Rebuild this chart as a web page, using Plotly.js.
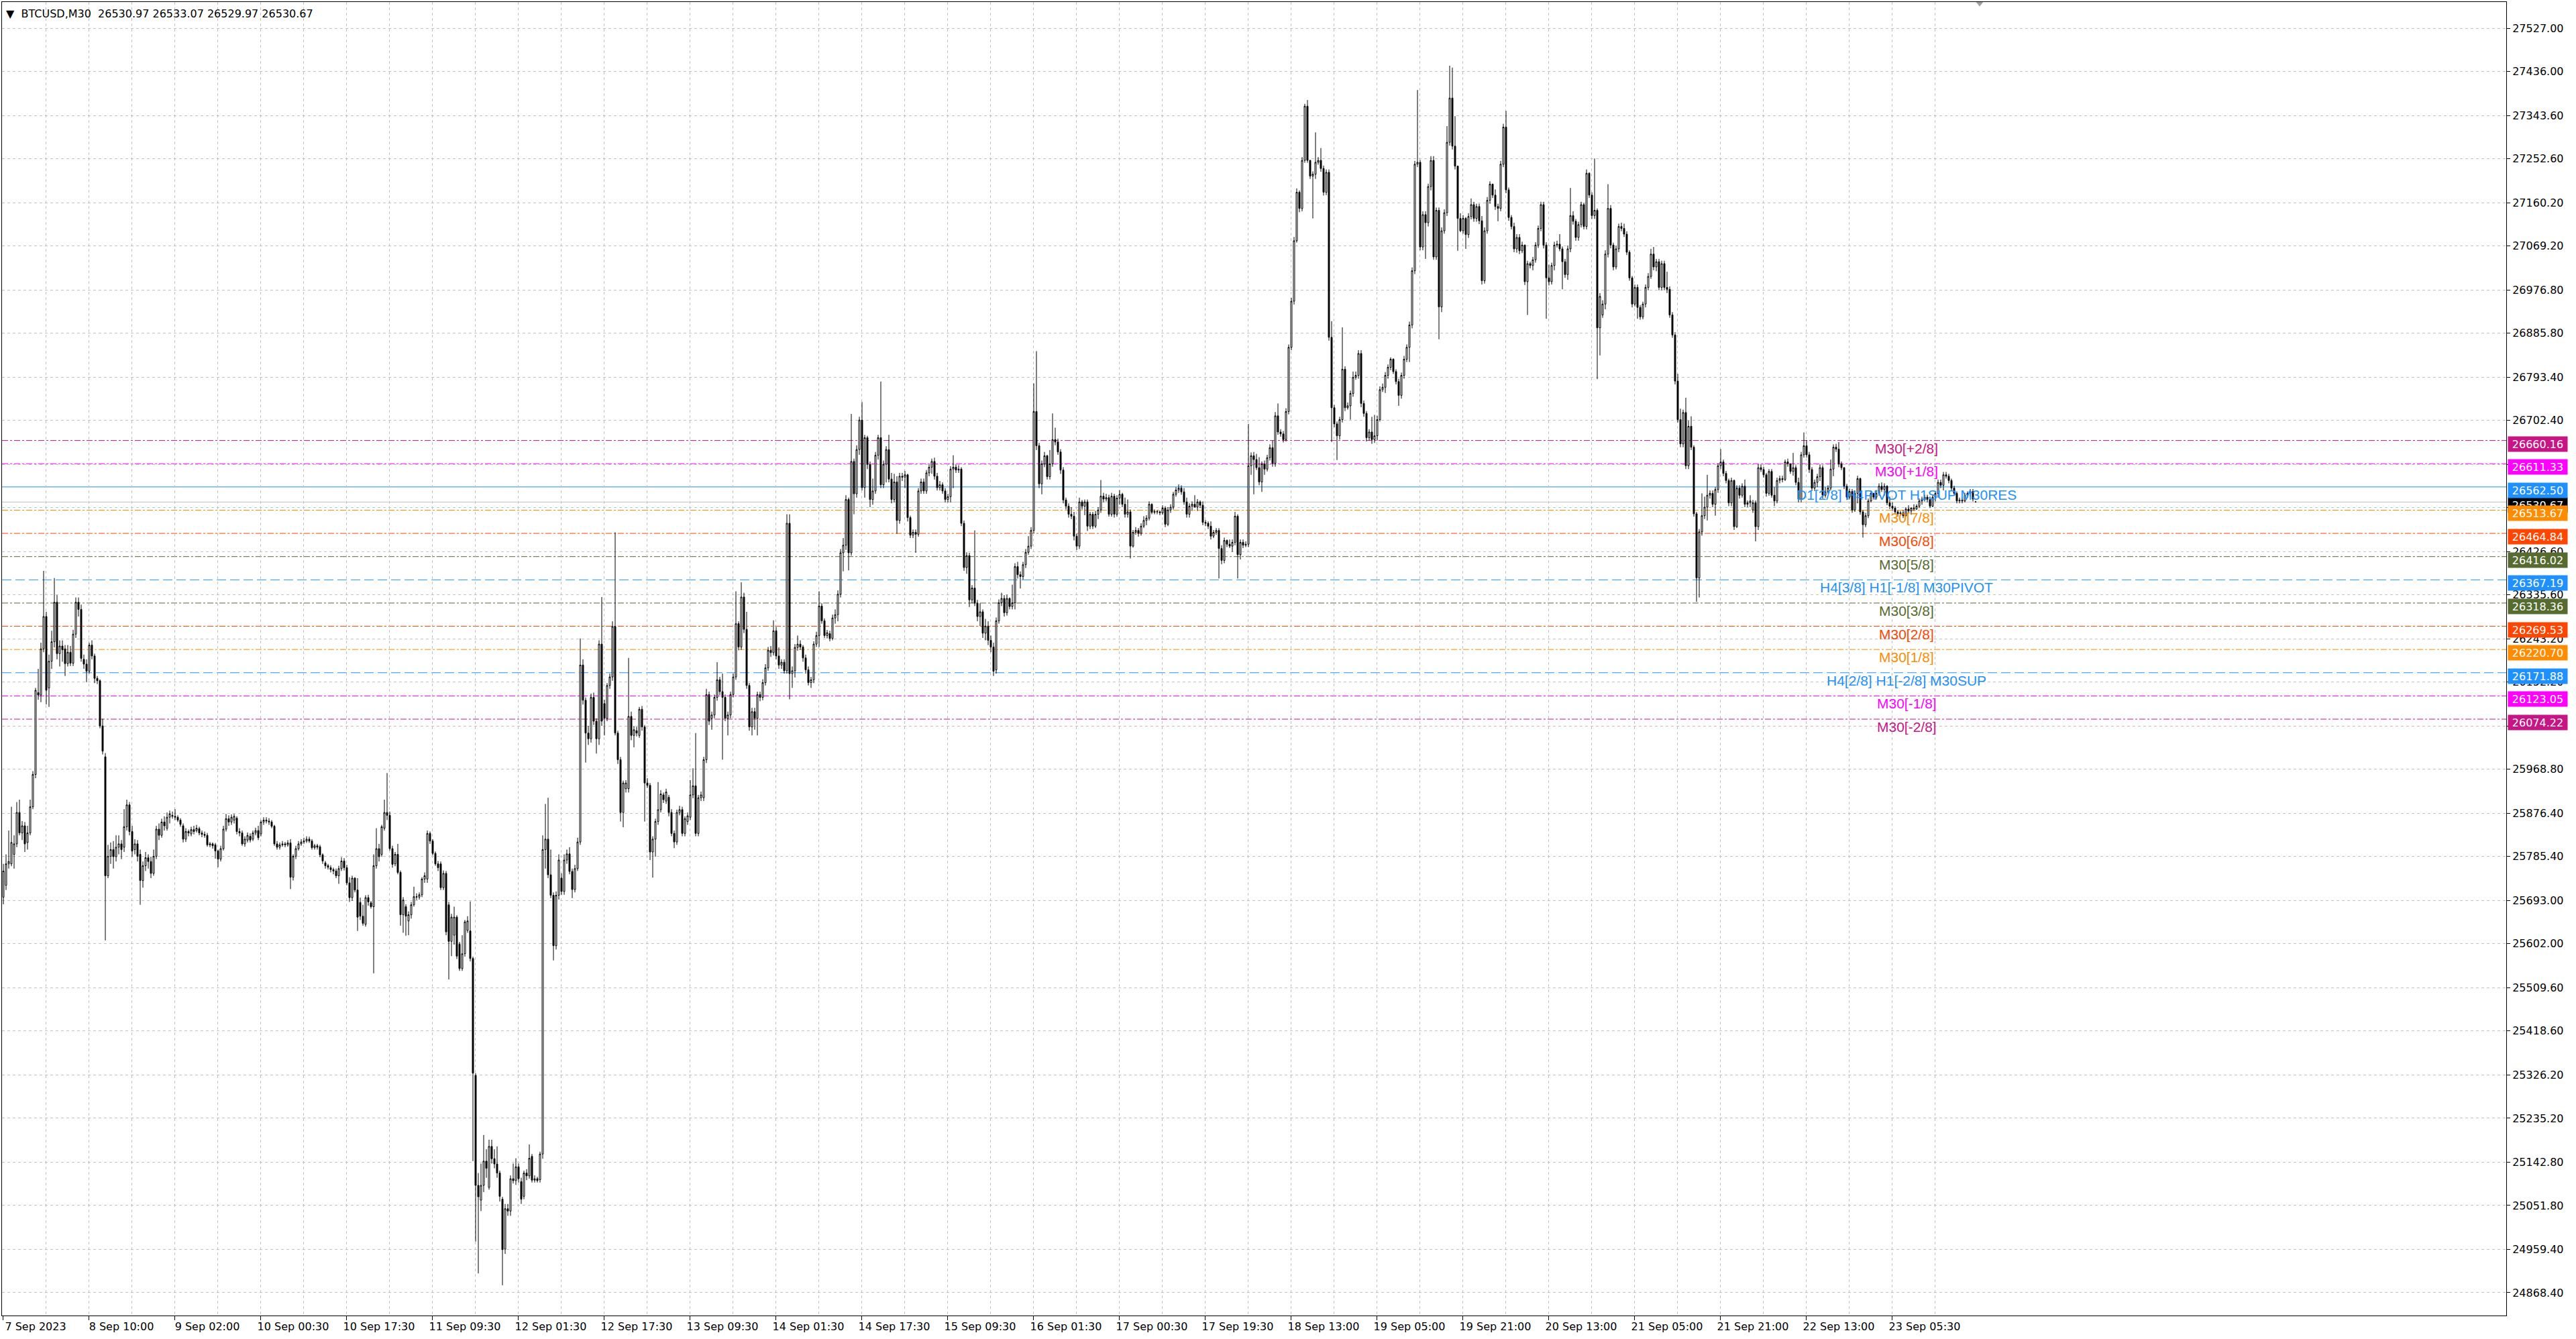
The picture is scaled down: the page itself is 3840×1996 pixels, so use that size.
<!DOCTYPE html>
<html>
<head>
<meta charset="utf-8">
<script src="https://cdn.plot.ly/plotly-3.0.1.min.js"></script>
<style>
html,body{margin:0;padding:0;background:#ffffff;}
#chart{width:3840px;height:1996px;}
</style>
</head>
<body>
<div id="chart"></div>
<script>
// ---------------- data ----------------
const symbolTitle = "BTCUSD,M30";
const lastBarText = ["26530.97", "26533.07", "26529.97", "26530.67"];

const openP = [
25700,25725,25770,25770,25790,25812,25878,25835,25850,25815,
25835,25890,25958,26130,26125,26222,26290,26140,26196,26237,
26320,26212,26228,26222,26191,26215,26192,26253,26320,26305,
26200,26190,26175,26230,26207,26160,26155,26060,25995,25745,
25786,25800,25785,25805,25812,25805,25848,25894,25838,25800,
25812,25790,25735,25766,25783,25775,25750,25786,25843,25830,
25858,25845,25868,25872,25870,25868,25862,25850,25822,25838,
25833,25842,25840,25844,25835,25832,25830,25810,25812,25810,
25797,25780,25802,25843,25865,25858,25862,25866,25838,25835,
25812,25820,25828,25822,25835,25840,25833,25858,25862,25860,
25858,25849,25812,25805,25810,25812,25810,25814,25742,25786,
25802,25812,25816,25818,25822,25818,25804,25808,25806,25789,
25772,25766,25762,25758,25755,25745,25760,25776,25762,25730,
25699,25740,25715,25689,25660,25643,25699,25688,25680,25766,
25802,25790,25845,25878,25872,25802,25770,25790,25752,25663,
25680,25650,25663,25684,25701,25700,25705,25738,25738,25834,
25818,25792,25770,25770,25720,25750,25684,25607,25620,25658,
25601,25550,25581,25630,25629,25571,25325,25094,25063,25094,
25145,25090,25176,25150,25139,25120,25065,24960,25045,25040,
25108,25104,25133,25102,25071,25120,25114,25155,25105,25108,
25106,25160,25800,25822,25747,25704,25598,25704,25740,25712,
25778,25791,25754,25716,25760,25816,26188,26114,26045,26033,
26120,26070,26033,26232,26107,26076,26145,26163,26269,26045,
25989,25878,25928,25928,26080,26040,26050,26040,26095,26058,
25940,25935,25795,25822,25859,25884,25915,25902,25910,25878,
25834,25816,25878,25884,25834,25859,25868,25915,25934,25834,
25909,25909,25989,26126,26076,26083,26120,26157,26132,26120,
26076,26083,26126,26163,26275,26226,26331,26263,26145,26058,
26090,26076,26126,26120,26151,26182,26219,26214,26260,26207,
26188,26194,26176,26486,26170,26176,26225,26232,26226,26203,
26178,26151,26157,26232,26250,26312,26281,26250,26254,26244,
26287,26294,26337,26424,26440,26536,26424,26616,26548,26641,
26703,26561,26666,26610,26536,26554,26629,26666,26567,26610,
26641,26579,26536,26573,26492,26585,26583,26588,26498,26461,
26467,26463,26554,26573,26554,26592,26604,26616,26585,26561,
26567,26554,26536,26542,26600,26604,26598,26600,26486,26393,
26418,26325,26350,26318,26290,26300,26255,26270,26240,26226,
26178,26281,26319,26328,26298,26328,26311,26319,26395,26378,
26374,26399,26425,26438,26471,26721,26649,26569,26611,26628,
26584,26611,26662,26657,26636,26598,26535,26522,26505,26501,
26459,26438,26531,26522,26531,26480,26505,26480,26505,26514,
26543,26537,26540,26505,26543,26505,26539,26547,26526,26505,
26510,26438,26467,26471,26465,26480,26492,26497,26526,26509,
26511,26510,26508,26518,26484,26514,26520,26547,26556,26560,
26552,26531,26505,26522,26526,26520,26531,26524,26488,26486,
26480,26459,26467,26471,26433,26408,26450,26442,26438,26446,
26501,26420,26446,26440,26442,26607,26628,26620,26603,26573,
26611,26600,26624,26645,26612,26712,26678,26674,26662,26721,
26856,26953,27080,27182,27148,27249,27363,27249,27216,27220,
27245,27249,27232,27182,27224,26877,26729,26695,26670,26704,
26810,26729,26733,26759,26793,26797,26843,26738,26717,26666,
26678,26662,26670,26704,26767,26772,26797,26814,26831,26805,
26784,26755,26797,26831,26856,26903,27017,27241,27245,27067,
27135,27118,27194,27249,27046,27144,26941,27101,27139,27287,
27380,27279,27237,27127,27101,27127,27093,27131,27156,27127,
27152,27122,26996,27101,27165,27199,27176,27152,27148,27241,
27319,27187,27129,27110,27063,27087,27059,27071,26994,27032,
27028,27040,27071,27106,27156,27071,27002,26994,27028,27071,
27073,27063,27036,27009,27063,27133,27121,27087,27114,27156,
27110,27222,27176,27133,27144,26897,26924,26947,27052,27148,
27071,27025,27063,27110,27106,27094,27056,27002,26947,26982,
26940,26920,26947,26982,27005,27052,27025,27036,26982,27032,
26982,26978,26924,26882,26785,26704,26653,26719,26607,
26690,26646,26506,26371,26468,26502,26520,26545,
26549,26526,26557,26607,26615,26591,26576,26529,26576,26479,
26560,26545,26564,26526,26529,26514,26529,26479,26603,26599,
26588,26549,26595,26545,26533,26576,26580,26578,26615,26611,
26595,26603,26572,26537,26630,26649,26630,26599,26560,26572,
26584,26603,26545,26552,26560,26600,26646,26642,26611,26603,
26564,26541,26553,26514,26549,26580,26510,26483,26502,26533,
26549,26541,26549,26564,26557,26564,26529,26522,26518,26510,
26506,26508,26502,26516,26512,26518,26516,26522,26533,26537,26541,26536,26522,
26541,26549,26572,26566,26588,26585,26576,26560,26549,26533,
26535,26533,26545,26549,26553,26530.97
];

const highP = [
25770,25790,25840,25890,25830,25900,25905,25860,25858,25850,
25905,25965,26140,26180,26235,26386,26300,26210,26260,26371,
26335,26240,26240,26230,26230,26228,26262,26330,26330,26315,
26210,26200,26235,26240,26212,26165,26158,26075,26003,25810,
25815,25818,25830,25830,25820,25885,25905,25900,25850,25822,
25820,25800,25775,25795,25790,25785,25800,25850,25855,25865,
25870,25878,25882,25880,25885,25872,25866,25855,25845,25842,
25848,25850,25852,25848,25840,25838,25835,25816,25815,25814,
25800,25808,25850,25875,25872,25874,25875,25870,25845,25840,
25828,25836,25834,25840,25846,25850,25862,25868,25868,25866,
25862,25852,25818,25815,25818,25816,25820,25822,25790,25808,
25818,25822,25825,25828,25827,25822,25812,25812,25810,25792,
25776,25770,25767,25762,25760,25766,25784,25782,25768,25742,
25745,25742,25740,25699,25684,25704,25705,25692,25790,25845,
25812,25852,25905,25961,25880,25808,25795,25812,25756,25700,
25685,25670,25690,25722,25708,25710,25742,25752,25840,25838,
25822,25796,25776,25775,25756,25755,25690,25665,25680,25662,
25606,25620,25652,25660,25691,25575,25330,25120,25140,25200,
25170,25190,25190,25170,25176,25125,25070,25055,25055,25115,
25140,25151,25140,25110,25125,25128,25180,25160,25115,25112,
25165,25830,25896,25909,25800,25710,25712,25790,25750,25790,
25800,25805,25760,25768,25825,26244,26200,26120,26060,26128,
26130,26076,26240,26331,26115,26150,26170,26280,26467,26050,
25995,25945,25946,26203,26090,26060,26058,26100,26102,26062,
25950,25940,25828,25865,25942,25925,25920,25928,25915,25885,
25840,25884,25892,25890,25870,25878,25946,25971,26045,25915,
25922,25995,26138,26132,26090,26126,26194,26163,26170,26126,
26090,26132,26170,26343,26280,26362,26340,26300,26150,26098,
26098,26132,26132,26158,26190,26226,26228,26282,26268,26225,
26200,26200,26505,26505,26185,26232,26250,26240,26230,26210,
26185,26163,26238,26258,26343,26318,26286,26262,26260,26294,
26305,26345,26432,26455,26545,26540,26716,26622,26650,26710,
26741,26672,26670,26616,26580,26636,26672,26784,26618,26648,
26672,26592,26590,26585,26592,26592,26596,26590,26502,26473,
26473,26560,26580,26580,26598,26610,26622,26624,26592,26575,
26572,26560,26548,26606,26629,26610,26608,26604,26492,26425,
26424,26356,26471,26325,26318,26305,26285,26280,26250,26235,
26288,26326,26340,26335,26336,26330,26357,26402,26405,26385,
26405,26432,26459,26478,26780,26848,26655,26618,26636,26630,
26640,26717,26687,26664,26642,26604,26540,26528,26520,26510,
26464,26540,26535,26536,26536,26510,26510,26512,26520,26577,
26550,26548,26546,26550,26548,26545,26556,26550,26540,26536,
26515,26472,26478,26476,26486,26501,26503,26532,26528,26515,
26514,26513,26524,26522,26520,26526,26552,26562,26568,26566,
26560,26540,26528,26532,26545,26537,26534,26532,26493,26490,
26490,26472,26476,26476,26440,26456,26452,26452,26452,26510,
26505,26452,26452,26448,26695,26635,26636,26632,26625,26616,
26618,26630,26652,26660,26720,26738,26684,26680,26728,26862,
26960,27088,27190,27186,27256,27368,27376,27250,27226,27308,
27256,27275,27238,27230,27230,26911,26735,26700,26710,26898,
26816,26740,26765,26805,26805,26850,26850,26744,26722,26684,
26710,26714,26712,26774,26780,26804,26820,26835,26833,26810,
26790,26803,26838,26862,26910,27024,27248,27397,27250,27142,
27142,27200,27258,27258,27150,27150,27108,27146,27321,27448,
27444,27342,27238,27138,27134,27130,27138,27169,27162,27158,
27158,27132,27108,27172,27205,27200,27188,27158,27248,27326,
27353,27192,27134,27118,27094,27094,27078,27072,27038,27036,
27046,27077,27112,27162,27162,27077,27030,27034,27078,27080,
27094,27068,27042,27070,27191,27142,27126,27120,27162,27160,
27230,27224,27182,27253,27148,26970,26955,27060,27199,27155,
27076,27070,27116,27118,27116,27100,27060,27006,26988,26988,
26945,26952,26988,27012,27063,27067,27042,27042,27038,27038,
27015,26984,26930,26888,26800,26727,26725,26750,26702,
26711,26650,26510,26474,26549,26542,26588,26555,
26555,26562,26612,26642,26620,26596,26580,26582,26578,26566,
26566,26570,26578,26534,26545,26535,26534,26610,26610,26605,
26592,26600,26600,26562,26582,26586,26586,26620,26622,26612,
26634,26608,26582,26636,26677,26661,26636,26604,26578,26590,
26610,26608,26562,26566,26620,26652,26653,26657,26616,26604,
26569,26559,26558,26555,26586,26582,26514,26508,26538,26555,
26550,26556,26570,26572,26570,26566,26542,26530,26522,26514,
26512,26514,26520,26524,26520,26526,26526,26538,26542,26546,26546,26542,26546,
26554,26578,26578,26594,26594,26590,26580,26565,26553,26540,
26540,26550,26553,26558,26558,26533.07
];

const lowP = [
25685,25715,25760,25765,25760,25805,25830,25820,25795,25800,
25830,25885,25950,26115,26110,26215,26105,26100,26180,26225,
26200,26185,26195,26165,26185,26186,26186,26245,26290,26195,
26180,26152,26170,26200,26150,26148,26055,26000,25609,25740,
25770,25760,25775,25790,25780,25795,25840,25830,25785,25790,
25775,25684,25720,25755,25760,25740,25745,25780,25820,25825,
25840,25840,25855,25865,25862,25858,25848,25815,25816,25828,
25828,25832,25836,25830,25826,25825,25806,25805,25802,25781,
25763,25775,25798,25838,25850,25852,25855,25832,25828,25808,
25806,25815,25815,25818,25830,25820,25828,25852,25855,25852,
25845,25808,25800,25800,25806,25805,25806,25717,25735,25780,
25798,25808,25812,25814,25814,25800,25800,25800,25784,25770,
25760,25758,25752,25748,25740,25728,25755,25756,25725,25690,
25692,25710,25629,25652,25640,25638,25682,25676,25540,25760,
25775,25785,25840,25862,25798,25762,25765,25748,25640,25625,
25619,25620,25655,25680,25694,25695,25700,25730,25730,25812,
25788,25766,25755,25715,25715,25620,25527,25576,25600,25570,
25545,25545,25575,25625,25565,25145,24976,24909,25040,25080,
25110,25085,25140,25130,25110,25060,24884,24950,25030,25030,
25098,25095,25100,25055,25065,25105,25108,25100,25100,25100,
25100,25150,25760,25740,25698,25567,25590,25695,25705,25705,
25770,25748,25698,25710,25755,25810,26105,25983,26020,26025,
26062,26002,26020,26060,26040,26070,26138,26155,26040,25980,
25859,25847,25920,25920,26030,26015,26038,26035,26050,25859,
25930,25778,25741,25785,25852,25878,25898,25896,25870,25828,
25803,25810,25872,25828,25828,25852,25862,25908,25828,25828,
25902,25902,25982,26062,26052,26076,26113,26125,25989,26070,
26040,26076,26120,26157,26219,26220,26255,26138,26050,26040,
26052,26040,26112,26114,26145,26176,26205,26208,26200,26180,
26180,26170,26170,26116,26140,26162,26218,26220,26195,26170,
26145,26140,26150,26226,26226,26275,26245,26244,26238,26240,
26275,26280,26330,26385,26430,26387,26418,26505,26540,26630,
26555,26540,26600,26520,26525,26548,26620,26560,26560,26572,
26572,26528,26530,26464,26485,26575,26560,26490,26455,26455,
26424,26458,26548,26548,26548,26585,26590,26578,26555,26555,
26548,26530,26530,26530,26560,26592,26592,26480,26386,26380,
26310,26318,26312,26280,26270,26245,26240,26230,26215,26165,
26170,26275,26312,26290,26292,26305,26305,26305,26370,26349,
26368,26392,26420,26432,26465,26640,26560,26547,26604,26578,
26578,26605,26650,26630,26590,26528,26515,26498,26495,26450,
26430,26432,26515,26503,26470,26474,26474,26476,26495,26508,
26530,26532,26500,26500,26498,26500,26525,26520,26498,26498,
26412,26435,26462,26458,26460,26476,26482,26492,26505,26505,
26505,26503,26504,26478,26480,26508,26515,26542,26550,26546,
26525,26498,26498,26512,26520,26512,26518,26482,26480,26474,
26452,26455,26462,26370,26400,26402,26436,26434,26426,26440,
26370,26410,26434,26436,26436,26588,26547,26598,26566,26552,
26588,26595,26618,26605,26605,26672,26668,26656,26658,26715,
26850,26946,27076,27140,27142,27244,27244,27210,27127,27210,
27240,27225,27175,27176,26870,26657,26688,26619,26662,26698,
26722,26725,26704,26752,26788,26790,26730,26710,26658,26660,
26653,26655,26660,26700,26762,26760,26790,26808,26800,26778,
26733,26748,26790,26825,26825,26896,27010,27235,27060,27060,
27042,27110,27186,27040,27040,26873,26930,27095,27132,27280,
27272,27230,27059,27098,27095,27063,27086,27125,27120,27120,
27115,26988,26990,27095,27158,27170,27145,27121,27142,27235,
27180,27122,27104,27056,27055,27052,27054,26987,26924,27022,
27018,27034,27065,27100,27064,26916,26986,26988,27018,27066,
27058,26978,27002,26998,27056,27114,27080,27080,27108,27104,
27104,27170,27126,27126,26789,26839,26918,26936,27045,27064,
27018,27020,27056,27100,27088,27050,26996,26940,26942,26916,
26914,26915,26940,26976,27000,27018,27016,26976,26976,26976,
26970,26918,26876,26778,26698,26646,26646,26600,26600,
26640,26500,26321,26330,26460,26495,26492,26538,
26520,26502,26550,26600,26585,26570,26522,26522,26472,26476,
26538,26540,26520,26520,26520,26508,26448,26472,26594,26582,
26542,26544,26540,26522,26528,26570,26572,26575,26605,26590,
26586,26566,26530,26530,26624,26624,26592,26554,26554,26562,
26575,26538,26540,26548,26555,26585,26636,26604,26598,26558,
26535,26536,26508,26510,26528,26504,26456,26478,26497,26530,
26536,26536,26544,26552,26544,26524,26516,26512,26505,26500,
26502,26497,26500,26508,26504,26512,26514,26518,26525,26532,26530,26518,26520,
26532,26540,26560,26555,26580,26570,26555,26544,26528,26528,
26528,26530,26540,26542,26532,26529.97
];

const closeP = [
25755,25770,25775,25815,25812,25878,25835,25850,25812,25835,
25890,25958,26135,26125,26222,26290,26135,26196,26237,26320,
26212,26228,26220,26191,26215,26192,26253,26320,26305,26202,
26190,26175,26230,26207,26160,26155,26060,26007,25745,25786,
25800,25785,25805,25812,25800,25848,25894,25838,25797,25812,
25786,25735,25766,25783,25775,25750,25786,25843,25830,25858,
25850,25868,25875,25870,25868,25862,25853,25822,25838,25835,
25842,25838,25845,25835,25832,25830,25810,25812,25808,25797,
25780,25802,25843,25865,25858,25868,25870,25838,25835,25812,
25822,25830,25820,25835,25840,25825,25858,25862,25860,25858,
25849,25812,25805,25810,25812,25810,25814,25742,25786,25802,
25812,25816,25818,25822,25818,25804,25808,25805,25789,25776,
25766,25763,25758,25755,25745,25760,25776,25762,25730,25699,
25740,25715,25658,25660,25645,25699,25690,25680,25766,25802,
25785,25848,25878,25872,25802,25769,25790,25752,25663,25694,
25660,25663,25684,25701,25700,25705,25738,25745,25834,25818,
25792,25770,25762,25720,25750,25627,25607,25658,25658,25576,
25550,25581,25648,25650,25571,25330,25094,25070,25094,25145,
25130,25176,25150,25139,25120,25071,24959,25045,25040,25108,
25104,25133,25108,25065,25120,25114,25151,25105,25108,25104,
25160,25800,25822,25747,25704,25598,25704,25778,25712,25778,
25791,25754,25716,25760,25816,26188,26114,26045,26033,26120,
26070,26033,26232,26070,26076,26145,26163,26269,26045,25989,
25878,25940,25940,26080,26040,26052,26045,26095,26058,25940,
25935,25795,25822,25859,25884,25917,25905,25921,25878,25834,
25816,25878,25884,25834,25865,25871,25915,25934,25834,25909,
25915,25989,26126,26070,26083,26120,26157,26132,26120,26076,
26083,26126,26163,26275,26226,26331,26263,26145,26058,26090,
26076,26126,26120,26151,26182,26219,26214,26260,26207,26188,
26194,26176,26486,26170,26176,26225,26232,26226,26203,26178,
26151,26157,26232,26250,26312,26281,26250,26256,26244,26287,
26294,26337,26424,26440,26536,26424,26616,26548,26641,26703,
26561,26666,26610,26536,26554,26629,26666,26567,26610,26641,
26579,26536,26573,26492,26585,26583,26588,26498,26461,26467,
26463,26554,26573,26554,26592,26604,26616,26585,26561,26567,
26554,26536,26542,26600,26604,26598,26600,26486,26393,26418,
26325,26350,26318,26290,26300,26255,26270,26240,26226,26175,
26281,26319,26328,26298,26328,26311,26319,26395,26378,26374,
26399,26425,26438,26471,26721,26649,26569,26611,26628,26584,
26611,26662,26657,26636,26598,26535,26522,26505,26501,26459,
26438,26531,26522,26531,26480,26505,26480,26505,26514,26543,
26537,26540,26505,26543,26505,26539,26547,26526,26505,26510,
26438,26467,26471,26465,26480,26492,26497,26526,26509,26511,
26510,26508,26518,26484,26514,26520,26547,26556,26560,26552,
26531,26505,26522,26526,26520,26531,26524,26488,26486,26480,
26459,26467,26471,26433,26408,26450,26442,26438,26446,26501,
26420,26446,26440,26442,26607,26628,26620,26603,26573,26611,
26600,26624,26645,26612,26712,26678,26674,26662,26721,26856,
26953,27080,27182,27148,27249,27363,27249,27216,27220,27245,
27249,27232,27182,27224,26877,26729,26695,26670,26704,26810,
26729,26733,26759,26793,26797,26843,26738,26717,26666,26678,
26662,26670,26704,26767,26772,26797,26814,26831,26805,26784,
26755,26797,26831,26856,26903,27017,27241,27245,27067,27135,
27118,27194,27249,27046,27144,26941,27101,27139,27287,27380,
27279,27237,27127,27101,27127,27093,27131,27156,27127,27152,
27122,26996,27101,27165,27199,27176,27152,27148,27241,27319,
27187,27129,27110,27063,27087,27059,27071,26994,27032,27028,
27040,27071,27106,27156,27071,27002,26994,27028,27071,27073,
27063,27036,27009,27063,27133,27121,27087,27114,27156,27110,
27222,27176,27133,27144,26897,26963,26947,27052,27148,27071,
27025,27063,27110,27106,27094,27056,27002,26947,26982,26940,
26920,26947,26982,27005,27052,27025,27036,26982,27032,26982,
26978,26924,26882,26785,26704,26653,26719,26607,26690,
26646,26506,26371,26468,26502,26520,26545,26549,
26526,26557,26607,26615,26591,26576,26529,26576,26479,26560,
26545,26564,26526,26529,26533,26529,26479,26603,26599,26588,
26549,26595,26545,26533,26576,26580,26578,26615,26611,26595,
26603,26572,26537,26630,26649,26630,26599,26560,26572,26584,
26603,26545,26552,26560,26600,26646,26642,26611,26603,26564,
26541,26553,26514,26549,26580,26510,26483,26502,26533,26549,
26541,26549,26564,26557,26564,26529,26522,26518,26510,26506,
26508,26502,26516,26512,26518,26516,26522,26533,26537,26541,26536,26522,26541,
26549,26572,26566,26588,26585,26576,26560,26549,26533,26535,
26533,26545,26549,26553,26537,26530.67
];

const xLabels = [
"7 Sep 2023","8 Sep 10:00","9 Sep 02:00","10 Sep 00:30","10 Sep 17:30",
"11 Sep 09:30","12 Sep 01:30","12 Sep 17:30","13 Sep 09:30","14 Sep 01:30",
"14 Sep 17:30","15 Sep 09:30","16 Sep 01:30","17 Sep 00:30","17 Sep 19:30",
"18 Sep 13:00","19 Sep 05:00","19 Sep 21:00","20 Sep 13:00","21 Sep 05:00",
"21 Sep 21:00","22 Sep 13:00","23 Sep 05:30"
];

const priceTicks = [
27527.00,27436.00,27343.60,27252.60,27160.20,27069.20,26976.80,26885.80,
26793.40,26702.40,26610.00,26519.00,26426.60,26335.60,26243.20,26152.20,
26059.80,25968.80,25876.40,25785.40,25693.00,25602.00,25509.60,25418.60,
25326.20,25235.20,25142.80,25051.80,24959.40,24868.40
];

const levelPrices = [26660.16,26611.33,26562.50,26513.67,26464.84,26416.02,26367.19,
                     26318.36,26269.53,26220.70,26171.88,26123.05,26074.22];
const levelNames  = ["M30[+2/8]","M30[+1/8]","D1[2/8] H4PIVOT H1SUP M30RES","M30[7/8]",
                     "M30[6/8]","M30[5/8]","H4[3/8] H1[-1/8] M30PIVOT","M30[3/8]",
                     "M30[2/8]","M30[1/8]","H4[2/8] H1[-2/8] M30SUP","M30[-1/8]","M30[-2/8]"];
const levelColors = ["#C71585","#FF00FF","#1E90FF","#FF8C00","#FF4500","#556B2F","#1E90FF",
                     "#556B2F","#FF4500","#FF8C00","#1E90FF","#FF00FF","#C71585"];
const levelDash   = ["dashdot","dashdot","solid","dashdot","dashdot","dashdot","14px,6px",
                     "dashdot","dashdot","dashdot","14px,6px","dashdot","dashdot"];
const currentPrice = 26530.67;

// ---------------- chart ----------------
const n = closeP.length;
const xs = closeP.map((_, i) => i);
const barsPerLabel = 32;
const labelBar = 709.25;
const gridColor = "#C0C0C0";
const gridDash = "4px,4px";

const tickPos = xLabels.map((_, i) => i * barsPerLabel - 0.25);
const minorPos = xLabels.map((_, i) => i * barsPerLabel - 0.25 + barsPerLabel / 2);

const trace = {
  type: "candlestick",
  x: xs, open: openP, high: highP, low: lowP, close: closeP,
  increasing: { line: { color: "#000000", width: 1 }, fillcolor: "#FFFFFF" },
  decreasing: { line: { color: "#000000", width: 1 }, fillcolor: "#000000" },
  whiskerwidth: 0,
  hoverinfo: "skip",
  showlegend: false
};

const shapes = [];
shapes.push({ type: "line", xref: "paper", x0: 0, x1: 1, yref: "y", y0: currentPrice, y1: currentPrice,
  line: { color: "#C0C0C0", width: 1 }, layer: "below" });
levelPrices.forEach((p, i) => {
  shapes.push({ type: "line", xref: "paper", x0: 0, x1: 1, yref: "y", y0: p, y1: p,
    line: { color: levelColors[i], width: 1, dash: levelDash[i] }, layer: "below" });
});
const sx = n + 0.5;
shapes.push({ type: "path", xref: "x", yref: "paper",
  path: `M ${sx - 1.3} 1 L ${sx + 1.3} 1 L ${sx} 0.9965 Z`,
  fillcolor: "#A0A0A0", line: { width: 0 } });

const annotations = [];
annotations.push({
  xref: "paper", yref: "paper", x: 0, y: 1, xanchor: "left", yanchor: "top",
  xshift: 4, yshift: -6, showarrow: false, align: "left",
  text: "\u25BC\u00A0\u00A0" + symbolTitle + "\u00A0\u00A0" + lastBarText.join(" "),
  font: { family: "DejaVu Sans, sans-serif", size: 16, color: "#000000" }
});
levelPrices.forEach((p, i) => {
  annotations.push({
    xref: "x", yref: "y", x: labelBar, y: p, xanchor: "center", yanchor: "top",
    yshift: 2, showarrow: false, text: levelNames[i],
    font: { family: "Liberation Sans, Arial, sans-serif", size: 21, color: levelColors[i] }
  });
});
const boxFont = { family: "DejaVu Sans, sans-serif", size: 16, color: "#FFFFFF" };
annotations.push({
  xref: "paper", yref: "y", x: 1, y: currentPrice, xanchor: "left", yanchor: "middle",
  xshift: 2, yshift: -5, showarrow: false, text: currentPrice.toFixed(2),
  bgcolor: "#000000", width: 88, height: 22, borderpad: 0, font: boxFont
});
levelPrices.forEach((p, i) => {
  annotations.push({
    xref: "paper", yref: "y", x: 1, y: p, xanchor: "left", yanchor: "middle",
    xshift: 2, yshift: -5, showarrow: false, text: p.toFixed(2),
    bgcolor: levelColors[i], width: 88, height: 22, borderpad: 0, font: boxFont
  });
});

const layout = {
  width: 3840, height: 1996,
  margin: { l: 3, r: 104, t: 3, b: 35, pad: 0 },
  paper_bgcolor: "#FFFFFF", plot_bgcolor: "#FFFFFF",
  showlegend: false, hovermode: false, dragmode: false,
  xaxis: {
    type: "linear", range: [-0.5, 932.75], fixedrange: true,
    rangeslider: { visible: false },
    tickmode: "array", tickvals: tickPos, ticktext: xLabels,
    ticks: "outside", ticklen: 6, tickcolor: "#000000", tickwidth: 1,
    ticklabelshift: 49, ticklabelstandoff: -4,
    tickfont: { family: "DejaVu Sans, sans-serif", size: 16, color: "#000000" },
    showgrid: true, gridcolor: gridColor, griddash: gridDash, gridwidth: 1,
    minor: { tickmode: "array", tickvals: minorPos, showgrid: true, gridcolor: gridColor,
             griddash: gridDash, gridwidth: 1, ticks: "" },
    showline: true, mirror: true, linecolor: "#000000", linewidth: 1,
    zeroline: false
  },
  yaxis: {
    side: "right", range: [24820.4, 27582.0], fixedrange: true,
    tickmode: "array", tickvals: priceTicks, ticktext: priceTicks.map(v => v.toFixed(2)),
    ticks: "outside", ticklen: 5, tickcolor: "#000000", tickwidth: 1,
    tickfont: { family: "DejaVu Sans, sans-serif", size: 16, color: "#000000" },
    showgrid: true, gridcolor: gridColor, griddash: gridDash, gridwidth: 1,
    showline: true, mirror: true, linecolor: "#000000", linewidth: 1,
    zeroline: false
  },
  shapes: shapes,
  annotations: annotations
};

if (!(openP.length === n && highP.length === n && lowP.length === n)) {
  console.error("length mismatch", openP.length, highP.length, lowP.length, n);
}

Plotly.newPlot("chart", [trace], layout, { displayModeBar: false, staticPlot: true });
</script>
</body>
</html>
